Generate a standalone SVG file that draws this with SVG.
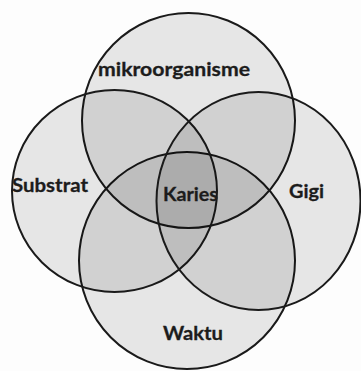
<svg xmlns="http://www.w3.org/2000/svg" width="361" height="371" viewBox="0 0 361 371">
<style>
.c{fill:#000;fill-opacity:0.09;stroke:#1a1a1a;stroke-width:2}
.t{font-family:Lato,"Open Sans","Liberation Sans",sans-serif;font-weight:bold;font-size:19px;fill:#1c1c1c;stroke:#1c1c1c;stroke-width:0.3}
</style>
<rect width="361" height="371" fill="#fdfdfd"/>
<g id="waktu">
<ellipse class="c" cx="187" cy="260.5" rx="108" ry="108.5"/>
<text class="t" x="163" y="340" textLength="60" lengthAdjust="spacingAndGlyphs">Waktu</text>
</g>
<g id="mikroorganisme">
<ellipse class="c" cx="188.5" cy="120.5" rx="106.5" ry="107.5"/>
<text class="t" x="98" y="76" textLength="152" lengthAdjust="spacingAndGlyphs">mikroorganisme</text>
</g>
<g id="substrat">
<ellipse class="c" cx="114.5" cy="191" rx="102.5" ry="101"/>
<text class="t" x="12" y="192" textLength="76" lengthAdjust="spacingAndGlyphs">Substrat</text>
</g>
<g id="gigi">
<ellipse class="c" cx="258.5" cy="201" rx="102" ry="109"/>
<text class="t" x="289" y="198" textLength="35" lengthAdjust="spacingAndGlyphs">Gigi</text>
</g>
<g id="karies">
<text class="t" x="163" y="201" textLength="55" lengthAdjust="spacingAndGlyphs">Karies</text>
</g>
</svg>
